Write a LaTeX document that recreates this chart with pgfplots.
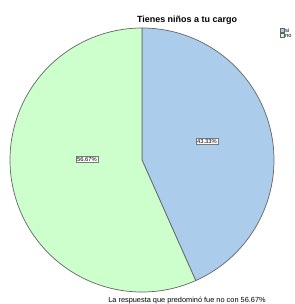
\documentclass[border=0pt]{standalone}
\usepackage{pgfplots}
\usepackage{pgfplotstable}
\pgfplotsset{compat=1.18}
\usepackage{fontspec}
\setmainfont{Liberation Sans}
\definecolor{siblue}{RGB}{172,204,235}
\definecolor{nogreen}{RGB}{204,255,204}
\definecolor{edge}{RGB}{100,100,100}
\definecolor{boxgray}{RGB}{120,120,120}
\pgfplotstableread{
label pct
si 43.33
no 56.67
}\piedata
\begin{document}
\begin{tikzpicture}[x=1bp,y=1bp]
\pgfplotstablegetelem{0}{pct}\of\piedata \let\pa\pgfplotsretval
\pgfplotstablegetelem{1}{pct}\of\piedata \let\pb\pgfplotsretval
\pgfmathsetmacro{\aend}{90-3.6*\pa}
\pgfmathsetmacro{\bend}{90+3.6*\pb}
\begin{axis}[at={(0,0)}, anchor=south west, scale only axis,
  width=295bp, height=304bp, xmin=0, xmax=295, ymin=0, ymax=304,
  y dir=reverse, hide axis, clip=false]
\addplot[fill=siblue, draw=edge, line width=0.7bp, domain=\aend:90, samples=150, variable=\t]
  ({142+132*cos(\t)},{160-132*sin(\t)}) -- (axis cs:142,160) -- cycle;
\addplot[fill=nogreen, draw=edge, line width=0.7bp, domain=90:\bend, samples=180, variable=\t]
  ({142+132*cos(\t)},{160-132*sin(\t)}) -- (axis cs:142,160) -- cycle;
\node[draw=boxgray, fill=white, inner sep=0.9bp, font=\fontsize{5.8}{6}\selectfont] at (axis cs:207,141.5) {43.33\%};
\node[draw=boxgray, fill=white, inner sep=0.9bp, font=\fontsize{5.8}{6}\selectfont] at (axis cs:87,159.5) {56.67\%};
\node[inner sep=0, anchor=base, font=\bfseries\fontsize{9}{11}\selectfont] at (axis cs:187,22.5) {Tienes niños a tu cargo};
\node[inner sep=0, anchor=base, font=\fontsize{7.4}{9}\selectfont] at (axis cs:187,302) {La respuesta que predominó fue no con 56.67\%};
\draw[draw=edge, fill=siblue, line width=0.4bp] (axis cs:280,28.2) rectangle (axis cs:284,32.2);
\draw[draw=edge, fill=nogreen, line width=0.4bp] (axis cs:280,33.3) rectangle (axis cs:284,37.3);
\node[inner sep=0, anchor=base west, font=\fontsize{5.8}{6}\selectfont] at (axis cs:285,32.2) {si};
\node[inner sep=0, anchor=base west, font=\fontsize{5.8}{6}\selectfont] at (axis cs:285,37.3) {no};
\end{axis}
\pgfresetboundingbox
\path[use as bounding box] (0,0) rectangle (295,304);
\end{tikzpicture}
\end{document}
